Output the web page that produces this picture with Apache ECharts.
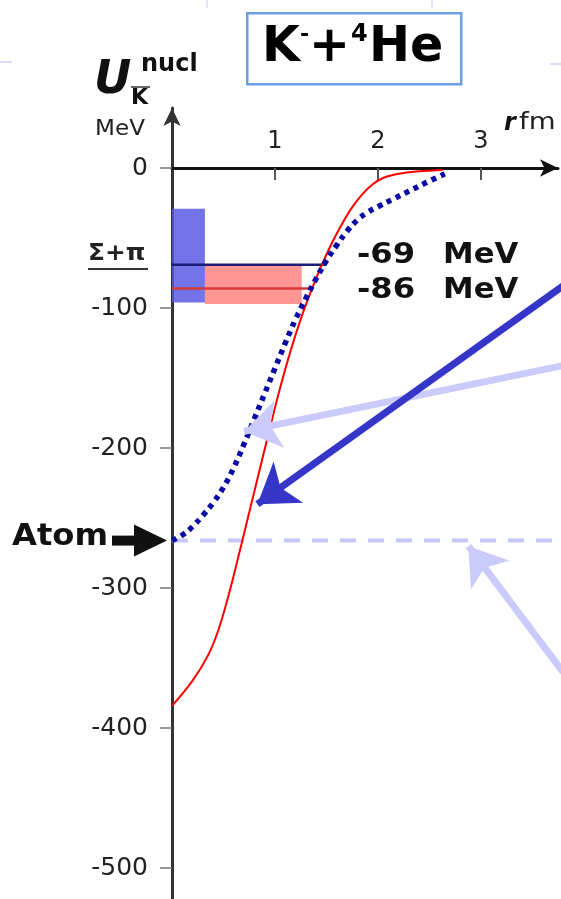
<!DOCTYPE html>
<html>
<head>
<meta charset="utf-8">
<script src="https://cdn.jsdelivr.net/npm/echarts@6/dist/echarts.min.js"></script>
<style>
  html, body { margin: 0; padding: 0; background: #ffffff; }
  #chart { width: 561px; height: 899px; }
</style>
</head>
<body>
<div id="chart"></div>
<script>
// Antikaon–nucleus potential for K- + 4He as a function of distance r (fm)

const yTicks = [0, -100, -200, -300, -400, -500];
const xTicks = [1, 2, 3];

// U_K^nucl (MeV) versus r (fm), solid red curve
const redCurve = [
  [0, -384], [0.2, -366], [0.35, -348], [0.45, -330], [0.55, -305],
  [0.65, -276], [0.75, -246], [0.85, -216], [0.95, -186], [1.05, -157],
  [1.15, -131], [1.25, -108], [1.35, -88], [1.45, -70], [1.55, -54],
  [1.65, -40], [1.75, -28], [1.85, -18.5], [1.95, -11.5], [2.05, -7],
  [2.2, -4], [2.4, -2.2], [2.63, -1.2]
];

// U_K^nucl (MeV) versus r (fm), dotted blue curve
const blueCurve = [
  [0, -266], [0.1, -262], [0.2, -256], [0.3, -248], [0.4, -239],
  [0.5, -228], [0.6, -214], [0.7, -197], [0.8, -179], [0.9, -161],
  [1.0, -143], [1.1, -125], [1.2, -108], [1.3, -93], [1.4, -79],
  [1.5, -66], [1.6, -55], [1.7, -45], [1.8, -37], [1.9, -31.5],
  [2.0, -27.5], [2.15, -22], [2.3, -16.5], [2.45, -11], [2.65, -4]
];

// bound-state levels (MeV) and how far out in r each level line runs
const levelEnergies = [-69, -86];
const levelEnds = [1.50, 1.37];
const levelColors = ['#1c1c7a', '#d63a3a'];

// Sigma+pi continuum bands: [r0, E0, r1, E1]
const bandBlue = [0, -29, 0.32, -96];
const bandRed = [0.32, -69, 1.26, -97];

// kaonic atom level (MeV)
const atomLevel = -266;

// pointer arrows: [from, to] in (r, E)
const darkArrows = [[[3.80, -84], [0.83, -240]]];
const lightArrows = [[[3.80, -141], [0.70, -188]], [[3.80, -360], [2.88, -270]]];

const chart = echarts.init(document.getElementById('chart'), null, { renderer: 'canvas' });

const FONT = 'DejaVu Sans';
const Y_MIN = -522, Y_MAX = 43;
const GRID_TOP = 108, GRID_H = 899 - GRID_TOP;
// r axis drawn along E = 0, measured down from the top edge of the grid
const zeroOffset = Math.round(GRID_H * Y_MAX / (Y_MAX - Y_MIN));

function bandRender(fill) {
  return function (params, api) {
    const p0 = api.coord([api.value(0), api.value(1)]);
    const p1 = api.coord([api.value(2), api.value(3)]);
    return {
      type: 'rect',
      shape: { x: p0[0], y: p0[1], width: p1[0] - p0[0], height: p1[1] - p0[1] },
      style: { fill: fill }
    };
  };
}

const option = {
  animation: false,
  backgroundColor: '#ffffff',
  textStyle: { fontFamily: FONT },
  grid: { left: 172, right: 3, top: GRID_TOP, bottom: 0, containLabel: false },
  xAxis: {
    type: 'value', min: 0, max: 3.75, position: 'top', offset: -zeroOffset,
    axisLine: {
      onZero: false, symbol: ['none', 'arrow'], symbolSize: [13, 18],
      lineStyle: { color: '#111111', width: 3 }
    },
    axisTick: { show: true, inside: true, customValues: xTicks, length: 12, lineStyle: { color: '#555555', width: 2 } },
    axisLabel: { customValues: xTicks, margin: 14, fontSize: 24, color: '#222222', fontFamily: FONT },
    splitLine: { show: false }
  },
  yAxis: {
    type: 'value', min: Y_MIN, max: Y_MAX,
    axisLine: {
      onZero: false, symbol: ['none', 'arrow'], symbolSize: [13, 18],
      lineStyle: { color: '#333333', width: 3 }
    },
    axisTick: { show: true, customValues: yTicks, length: 12, lineStyle: { color: '#777777', width: 1.5 } },
    axisLabel: { customValues: yTicks, margin: 24, fontSize: 25, color: '#222222', fontFamily: FONT },
    splitLine: { show: false }
  },
  series: [
    { type: 'custom', silent: true, z: 1, data: [bandRed], renderItem: bandRender('rgba(255,110,110,0.72)') },
    { type: 'custom', silent: true, z: 1, data: [bandBlue], renderItem: bandRender('rgba(85,85,228,0.82)') },
    ...levelEnergies.map((e, i) => ({
      type: 'line', silent: true, z: 2, showSymbol: false,
      data: [[0, e], [levelEnds[i], e]],
      lineStyle: { color: levelColors[i], width: 2.5 }
    })),
    {
      type: 'line', silent: true, z: 2, showSymbol: false, clip: false,
      data: [[0, atomLevel], [3.78, atomLevel]],
      lineStyle: { color: '#c8c8f8', width: 4, type: [16, 12] }
    },
    {
      type: 'line', silent: true, z: 3, showSymbol: false, smooth: 0.4,
      data: redCurve,
      lineStyle: { color: '#ff0000', width: 2 }
    },
    {
      type: 'line', silent: true, z: 4, showSymbol: false, smooth: 0.4,
      data: blueCurve,
      lineStyle: { color: '#0a0aa5', width: 5.5, type: [5, 5] }
    },
    {
      type: 'lines', coordinateSystem: 'cartesian2d', silent: true, z: 5,
      symbol: ['none', 'arrow'], symbolSize: [28, 36],
      data: lightArrows.map(a => ({ coords: a })),
      lineStyle: { color: '#cacafb', width: 7, opacity: 1 }
    },
    {
      type: 'lines', coordinateSystem: 'cartesian2d', silent: true, z: 6,
      symbol: ['none', 'arrow'], symbolSize: [30, 38],
      data: darkArrows.map(a => ({ coords: a })),
      lineStyle: { color: '#3535c8', width: 7, opacity: 1 }
    }
  ]
};

chart.setOption(option);

// annotations positioned from the axes
const atomPx = chart.convertToPixel({ gridIndex: 0 }, [0, atomLevel]);
const axisX = atomPx[0];
const ay = atomPx[1];

function txt(x, y, text, font, fill, sx) {
  return { type: 'text', x: x, y: y, scaleX: sx || 1, style: { text: text, font: font, fill: fill || '#111' } };
}

chart.setOption({
  graphic: [
    // faint page guides
    { type: 'line', shape: { x1: 0, y1: 62, x2: 12, y2: 62 }, style: { stroke: '#dcdcf6', lineWidth: 2 } },
    { type: 'line', shape: { x1: 550, y1: 64, x2: 561, y2: 64 }, style: { stroke: '#dcdcf6', lineWidth: 2 } },
    { type: 'line', shape: { x1: 207, y1: 0, x2: 207, y2: 8 }, style: { stroke: '#dcdcf6', lineWidth: 1.5 } },
    { type: 'line', shape: { x1: 432, y1: 0, x2: 432, y2: 8 }, style: { stroke: '#dcdcf6', lineWidth: 1.5 } },

    // title box
    { type: 'rect', left: 246, top: 12, shape: { width: 214, height: 71 },
      style: { fill: '#ffffff', stroke: '#6c9ee0', lineWidth: 2.5 } },
    txt(262, 24, 'K', 'bold 49px "DejaVu Sans"', '#000'),
    txt(300, 24, '-', 'bold 22px "DejaVu Sans"', '#000'),
    txt(309, 24, '+', 'bold 49px "DejaVu Sans"', '#000'),
    txt(351, 23, '4', 'bold 24px "DejaVu Sans"', '#000'),
    txt(369, 24, 'He', 'bold 49px "DejaVu Sans"', '#000'),

    // y-axis name
    txt(94, 58, 'U', 'italic bold 46px "DejaVu Sans"', '#111'),
    txt(141, 53, 'nucl', 'bold 24px "DejaVu Sans"', '#111'),
    { type: 'line', shape: { x1: 131, y1: 87, x2: 150, y2: 87 }, style: { stroke: '#333', lineWidth: 1.5 } },
    txt(131, 87, 'K', 'bold 22px "DejaVu Sans"', '#111'),
    txt(95, 118, 'MeV', '22px "DejaVu Sans"', '#222', 1.05),

    // x-axis name
    txt(504, 112, 'r', 'italic bold 24px "DejaVu Sans"', '#111'),
    txt(519, 112, 'fm', '23px "DejaVu Sans"', '#222', 1.2),

    // Sigma + pi threshold label
    txt(88, 243, 'Σ+π', 'bold 23px "DejaVu Sans"', '#222', 1.08),
    { type: 'line', shape: { x1: 88, y1: 269, x2: 148, y2: 269 }, style: { stroke: '#333', lineWidth: 2 } },

    // binding energies
    txt(357, 242, '-69', 'bold 28px "DejaVu Sans"', '#111', 1.15),
    txt(443, 242, 'MeV', 'bold 28px "DejaVu Sans"', '#111', 1.1),
    txt(357, 277, '-86', 'bold 28px "DejaVu Sans"', '#111', 1.15),
    txt(443, 277, 'MeV', 'bold 28px "DejaVu Sans"', '#111', 1.1),

    // atom level pointer
    txt(12, ay - 19, 'Atom', 'bold 31px "DejaVu Sans"', '#111', 1.04),
    { type: 'rect', shape: { x: 112, y: ay - 5, width: 28, height: 10 }, style: { fill: '#111' } },
    { type: 'polygon', shape: { points: [[134, ay - 16], [axisX - 5, ay], [134, ay + 16]] }, style: { fill: '#111' } }
  ]
});
</script>
</body>
</html>
